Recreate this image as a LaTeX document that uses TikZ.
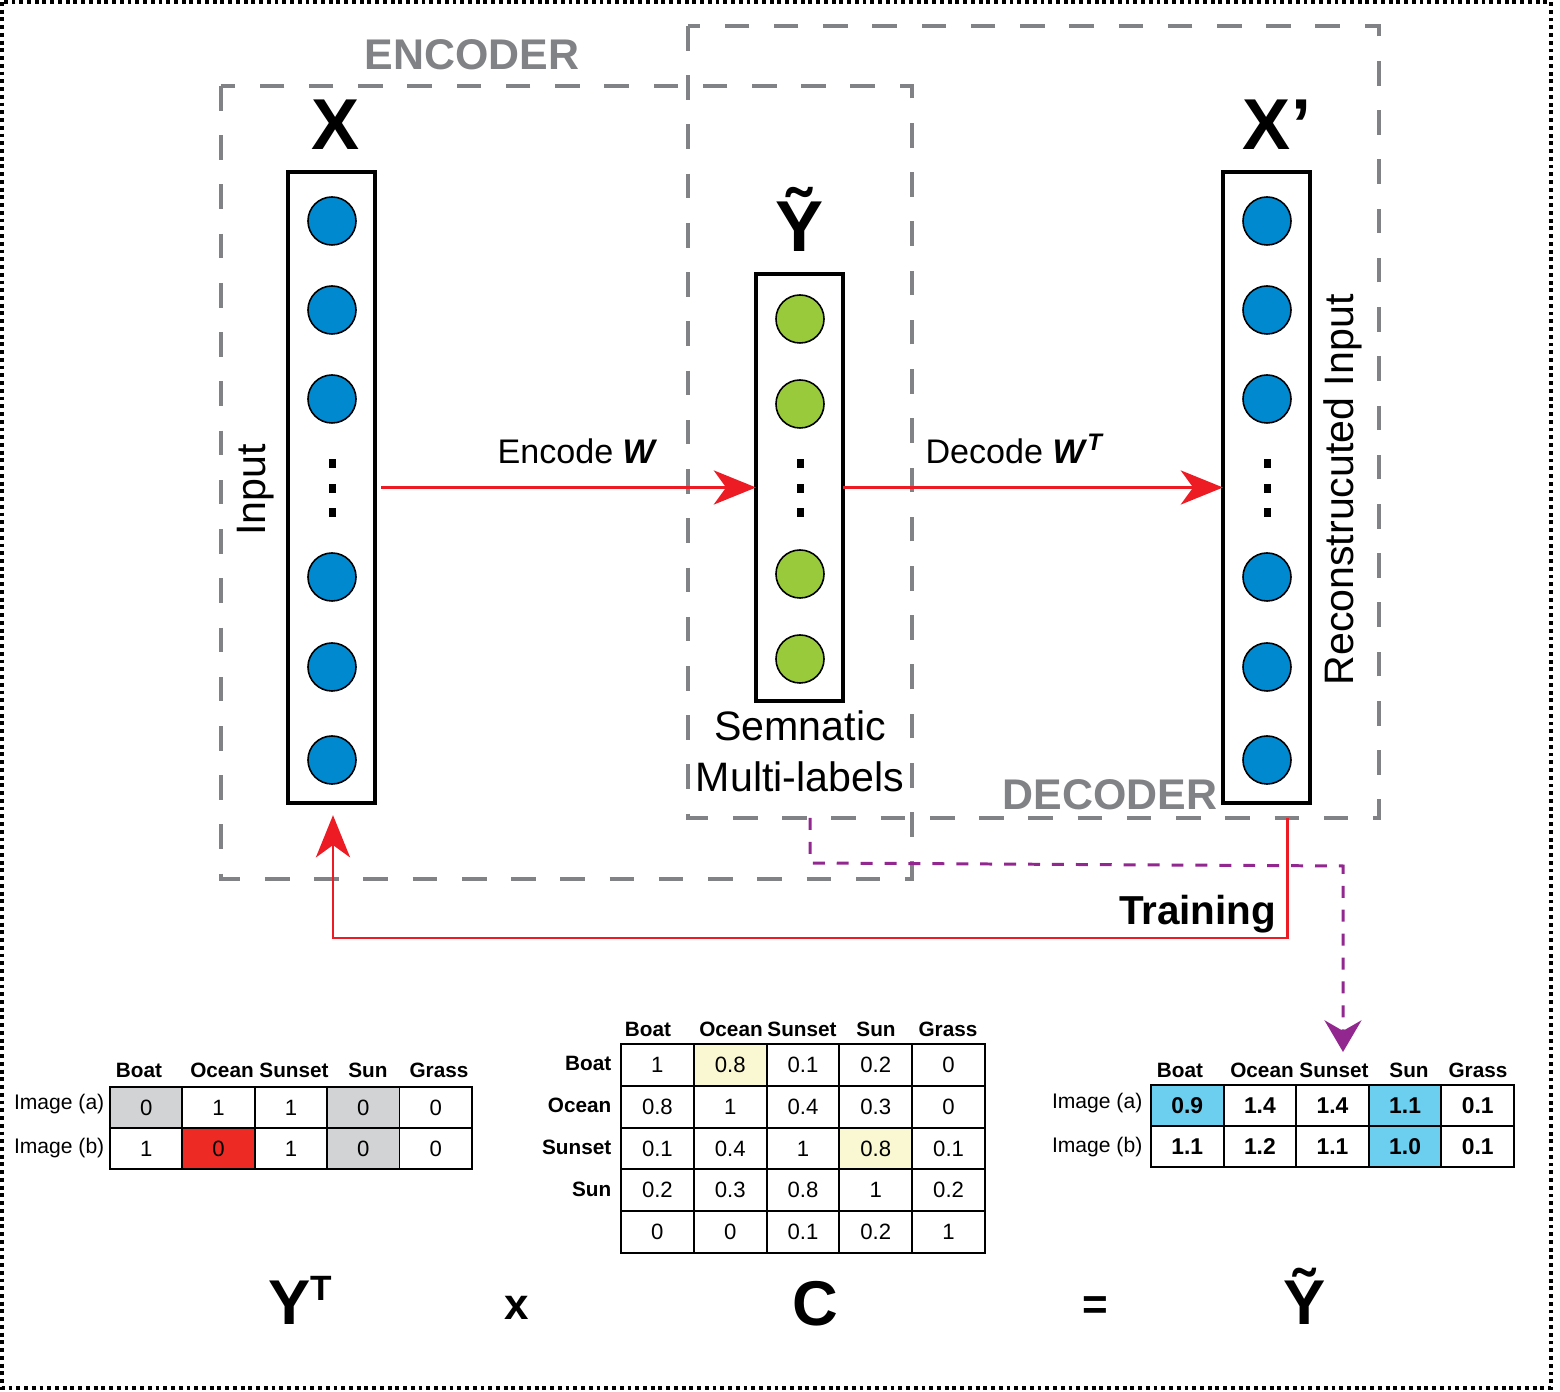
\documentclass[tikz,border=0pt]{standalone}
\usepackage{fontspec}
\setmainfont{Liberation Sans}
\usetikzlibrary{arrows.meta}

\definecolor{nnblue}{RGB}{0,137,207}
\definecolor{nngreen}{RGB}{153,202,60}
\definecolor{grpgrey}{RGB}{128,130,133}
\definecolor{flowred}{RGB}{237,28,36}
\definecolor{trainpurple}{RGB}{146,39,143}
\definecolor{cellgrey}{RGB}{209,211,212}
\definecolor{cellred}{RGB}{238,42,36}
\definecolor{cellyellow}{RGB}{250,248,210}
\definecolor{cellblue}{RGB}{109,207,240}

\newcommand{\fsz}[1]{\fontsize{#1}{1.2\dimexpr#1pt\relax}\selectfont}

\begin{document}
\begin{tikzpicture}[x=0.01cm, y=-0.01cm,
    column/.style={draw, line width=1.1pt, minimum width=0.87cm, inner sep=0pt, outer sep=0pt},
    unit/.style={circle, draw, line width=0.45pt, minimum size=0.48cm, inner sep=0pt},
    groupbox/.style={draw=grpgrey, line width=1.1pt, dash pattern=on 7pt off 7pt},
    grouplbl/.style={anchor=base, text=grpgrey, font=\bfseries\fsz{12.2}},
    veclbl/.style={anchor=base, font=\bfseries\fsz{20.5}},
    sidelbl/.style={rotate=90, font=\fsz{11.7}},
    flow/.style={draw=flowred, line width=0.85pt, -{Stealth[length=12pt, width=9.7pt, inset=3.5pt]}},
    cell/.style={draw, line width=0.55pt, minimum width=0.725cm, minimum height=0.41cm, inner sep=0pt, font=\fsz{6.3}},
    hdr/.style={font=\bfseries\fsz{5.9}},
    rowlbl/.style={anchor=east, inner sep=0pt, font=\fsz{6}},
    eqlbl/.style={anchor=base, font=\bfseries\fsz{18}}]

    \useasboundingbox (0,0) rectangle (1560,1392);
    \draw[line width=1.1pt, dash pattern=on 1.1pt off 1.1pt] (2,2) rectangle (1551,1388);

    % Groepen
    \draw[groupbox] (221,86) rectangle (912,879);
    \draw[groupbox] (688,26) rectangle (1379,818);
    \node[grouplbl] (enclbl) at (472,70) {ENCODER};
    \node[grouplbl] (declbl) at (1110,810) {DECODER};

    % Kolommen
    \node[column, minimum height=6.31cm] (xcol) at (331.5,487.5) {};
    \node[column, minimum height=4.27cm] (ycol) at (799.5,487.5) {};
    \node[column, minimum height=6.31cm] (xpcol) at (1266.5,487.5) {};

    \foreach \cy [count=\k] in {221,310,399,577,667,760} {
        \node[unit, fill=nnblue] (x-\k) at (332,\cy) {};
        \node[unit, fill=nnblue] (xp-\k) at (1267,\cy) {};
    }
    \foreach \cy [count=\k] in {319,404,574,659}
        \node[unit, fill=nngreen] (y-\k) at (800,\cy) {};
    \foreach \cx in {332,800,1267}
        \foreach \dy in {464,489,513}
            \fill (\cx-3.5,\dy-4.5) rectangle (\cx+3.5,\dy+4.5);

    \node[veclbl] (xlbl) at (336,150) {X};
    \node[veclbl] (ylbl) at (800,252) {Ỹ};
    \node[veclbl] (xplbl) at (1277,150) {X’};
    \node[sidelbl] (inlbl) at (256,490) {Input};
    \node[sidelbl] (reclbl) at (1343,490) {Reconstrucuted Input};
    \node[anchor=north, align=center, inner sep=0pt, font=\fsz{11.7}] (semlbl) at (800,710) {Semnatic\\[0.6pt]Multi-labels};

    % Pijlen
    \draw[flow, shorten <=1.7pt] (xcol.east) -- (ycol.west)
        node[midway, above=3pt, xshift=3.4pt, font=\fsz{9.7}] (enclbl) {Encode \textbf{\textit{W}}};
    \draw[flow] (ycol.east) -- (xpcol.west)
        node[midway, above=3pt, xshift=-5pt, font=\fsz{9.7}] (declbl) {Decode \textbf{\textit{W}}\textsuperscript{\textbf{\textit{T}}}};

    \coordinate (trainstart) at (1287,818);
    \draw[flow] (trainstart) -- (1287,938) -| ([shift={(1.5,12)}]xcol.south);
    \node[anchor=east, inner sep=0pt, font=\bfseries\fsz{11.5}] (trainlbl) at (1277,914) {Training};

    \coordinate (semstart) at (810,818);
    \coordinate (semend) at (1343,1052);
    \draw[draw=trainpurple, line width=0.85pt, dash pattern=on 3.4pt off 3.4pt,
          -{Stealth[length=9pt, width=10.5pt, inset=3pt, fill=trainpurple]}]
        (semstart) -- (810,863) -- (1343,866) -- (semend);

    % Tabel Y^T
    \foreach \hd/\hx [count=\i] in {Boat/139,Ocean/222,Sunset/294,Sun/368,Grass/439}
        \node[hdr] (yt-h\i) at (\hx,1070) {\hd};
    \foreach \v/\f [count=\i] in {0/cellgrey,1/white,1/white,0/cellgrey,0/white}
        \node[cell, fill=\f] (yt-a\i) at ({110+72.4*(\i-0.5)},1107.5) {\v};
    \foreach \v/\f [count=\i] in {1/white,0/cellred,1/white,0/cellgrey,0/white}
        \node[cell, fill=\f] (yt-b\i) at ({110+72.4*(\i-0.5)},1148.5) {\v};
    \node[rowlbl] (yt-la) at (105,1104) {Image (a)};
    \node[rowlbl] (yt-lb) at (105,1148) {Image (b)};

    % Tabel C
    \foreach \hd/\hx [count=\i] in {Boat/648,Ocean/731,Sunset/802,Sun/876,Grass/948}
        \node[hdr] (c-h\i) at (\hx,1029) {\hd};
    \foreach \row [count=\j] in {
            {1/white,0.8/cellyellow,0.1/white,0.2/white,0/white},
            {0.8/white,1/white,0.4/white,0.3/white,0/white},
            {0.1/white,0.4/white,1/white,0.8/cellyellow,0.1/white},
            {0.2/white,0.3/white,0.8/white,1/white,0.2/white},
            {0/white,0/white,0.1/white,0.2/white,1/white}}
        \foreach \v/\f [count=\i] in \row
            \node[cell, minimum width=0.728cm, minimum height=0.418cm, fill=\f]
                (c-\j-\i) at ({621+72.8*(\i-0.5)},{1044+41.8*(\j-0.5)}) {\v};
    \foreach \lbl [count=\j] in {Boat,Ocean,Sunset,Sun}
        \node[rowlbl, font=\bfseries\fsz{5.9}] (c-l\j) at (612,{1044+41.8*(\j-0.5)-1}) {\lbl};

    % Tabel Y-tilde
    \foreach \hd/\hx [count=\i] in {Boat/1180,Ocean/1262,Sunset/1334,Sun/1409,Grass/1478}
        \node[hdr] (yy-h\i) at (\hx,1070) {\hd};
    \foreach \v/\f [count=\i] in {0.9/cellblue,1.4/white,1.4/white,1.1/cellblue,0.1/white}
        \node[cell, fill=\f, font=\bfseries\fsz{6.5}] (yy-a\i) at ({1151+72.6*(\i-0.5)},1105.5) {\v};
    \foreach \v/\f [count=\i] in {1.1/white,1.2/white,1.1/white,1.0/cellblue,0.1/white}
        \node[cell, fill=\f, font=\bfseries\fsz{6.5}] (yy-b\i) at ({1151+72.6*(\i-0.5)},1146.5) {\v};
    \node[rowlbl] (yy-la) at (1143,1103) {Image (a)};
    \node[rowlbl] (yy-lb) at (1143,1147) {Image (b)};

    % Vergelijking
    \node[eqlbl] (eq-yt) at (300,1325) {Y\raisebox{0.38em}{\fsz{10}T}};
    \node[eqlbl, font=\bfseries\fsz{12.5}] (eq-x) at (517,1320) {x};
    \node[eqlbl] (eq-c) at (815,1326) {C};
    \node[eqlbl, font=\bfseries\fsz{12.5}] (eq-is) at (1095,1320) {=};
    \node[eqlbl] (eq-yy) at (1305,1324) {Ỹ};
\end{tikzpicture}
\end{document}
